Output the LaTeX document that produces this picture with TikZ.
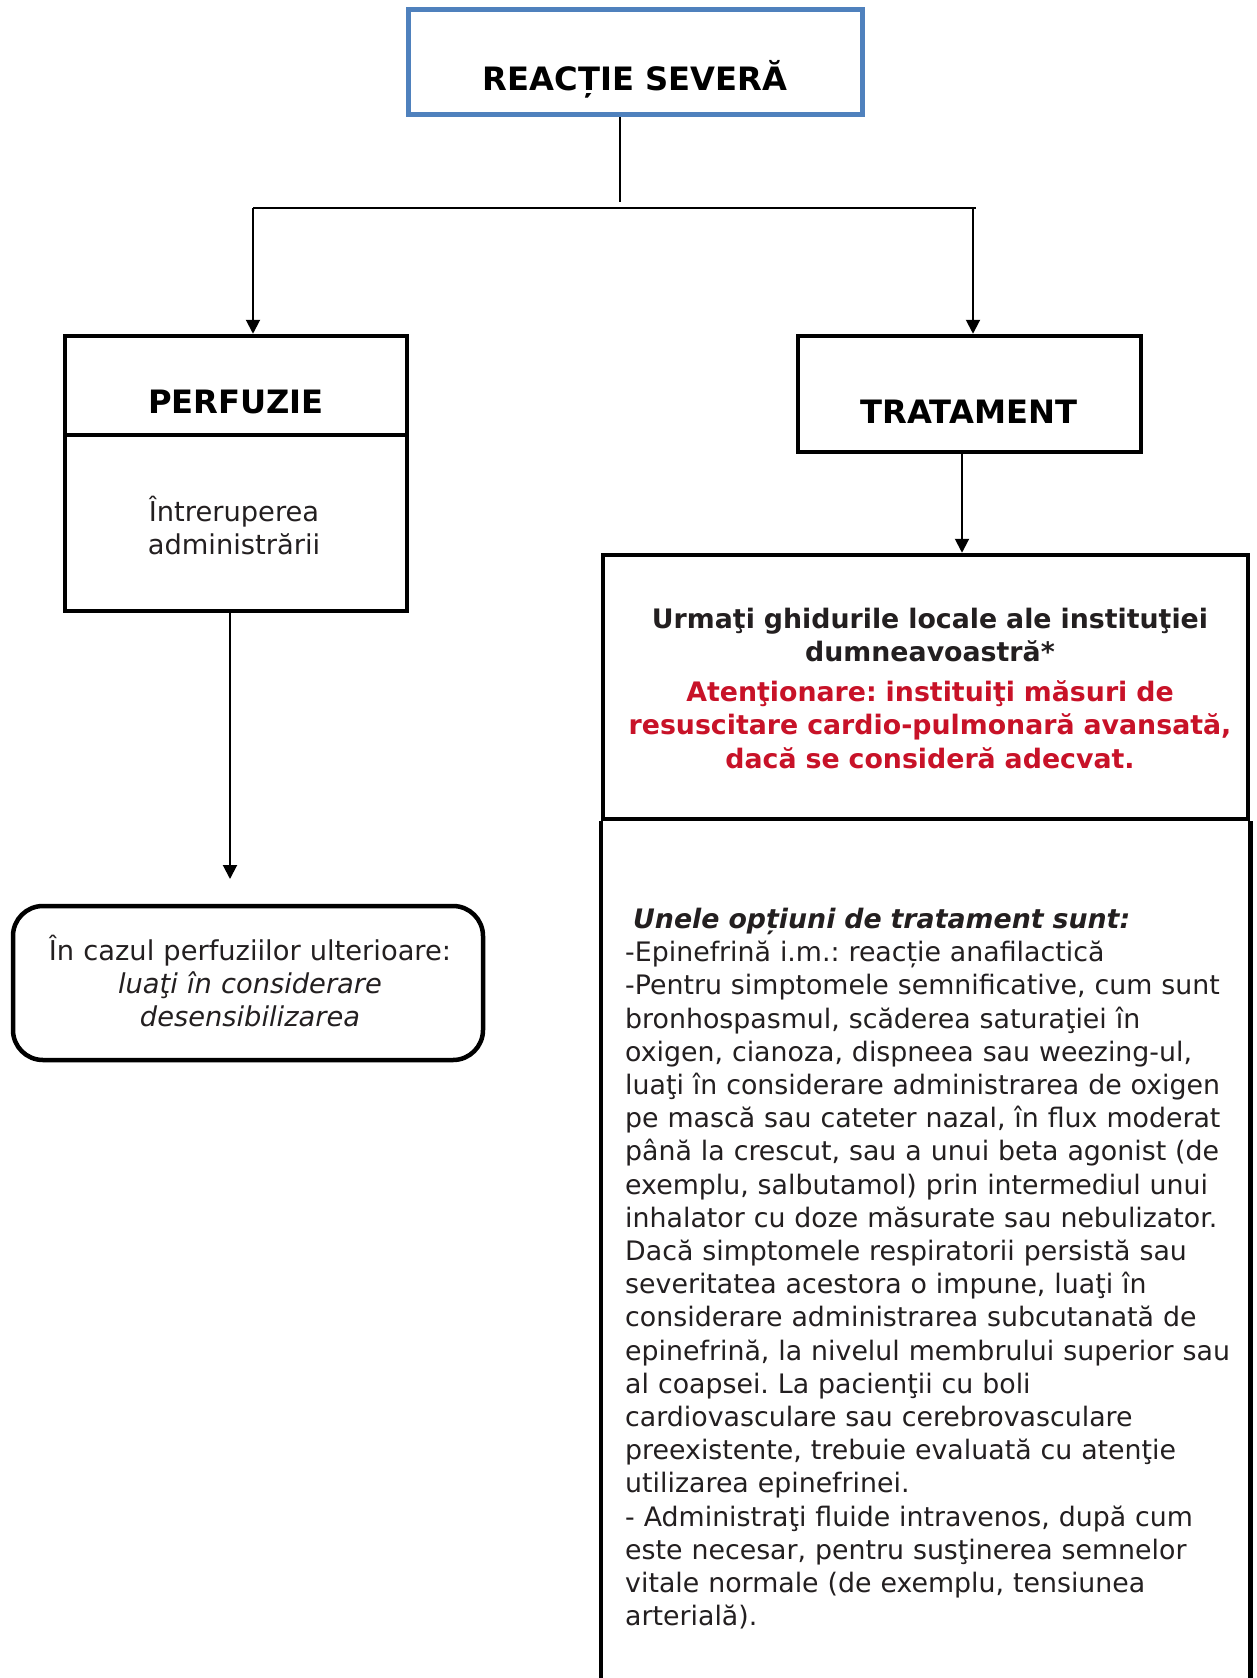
\documentclass[tikz,border=0pt]{standalone}
\usepackage{fontspec}
\setmainfont{DejaVu Sans}
\usetikzlibrary{arrows.meta}
\definecolor{txt}{RGB}{35,31,32}
\definecolor{redt}{RGB}{200,18,40}
\definecolor{blueb}{RGB}{79,129,189}
\newcommand{\bodyfnt}{\frenchspacing\fontsize{27.3}{33.2}\selectfont}
\newcommand{\optfnt}{\frenchspacing\fontsize{26.8}{33.2}\selectfont}
\newcommand{\headfnt}{\fontsize{32.2}{38}\selectfont\bfseries}
\begin{document}
\begin{tikzpicture}[x=1pt,y=-1pt,
  box/.style={draw=black,line width=4.5pt,inner sep=0pt},
  topbox/.style={draw=blueb,line width=5pt,inner sep=0pt},
  conn/.style={line width=2pt,black},
  arr/.style={conn,-{Triangle[length=14pt,width=14pt]}},
  head/.style={font=\headfnt,text=black,inner sep=0pt,anchor=base},
  bodyc/.style={font=\bodyfnt,text=txt,inner sep=0pt,anchor=base,align=center,text width=460pt},
  bodyl/.style={font=\optfnt,text=txt,inner sep=0pt,anchor=base west,align=left,text width=640pt}]
\useasboundingbox[fill=white] (0,0) rectangle (1257,1678);

% boxes
\node[topbox,minimum width=454pt,minimum height=105pt] (sev) at (635.5,62) {};
\node[box,minimum width=342pt,minimum height=99pt] (perf) at (236,385.5) {};
\node[box,minimum width=342pt,minimum height=176pt] (perfb) at (236,523) {};
\node[box,minimum width=343pt,minimum height=116pt] (trat) at (969.5,394) {};
\node[box,minimum width=645pt,minimum height=264pt] (guide) at (925.5,687) {};
\node[box,rounded corners=30pt,minimum width=470pt,minimum height=154pt] (cons) at (248,983) {};
\draw[line width=4.5pt] (guide.south west) -- ++(0,870);
\draw[line width=4.5pt] (guide.south east) -- ++(0,870);

% texts
\node[head] (tsev) at (635,90.6) {REACȚIE SEVERĂ};
\node[head] (tperf) at (236,413.6) {PERFUZIE};
\node[head] (ttrat) at (969,423.6) {TRATAMENT};
\node[bodyc,text width=330pt] (tperfb) at (234,521) {Întreruperea\\administrării};
\node[bodyc] (tcons) at (250,960.5) {În cazul perfuziilor ulterioare:\\\textit{luaţi în considerare}\\\textit{desensibilizarea}};
\node[bodyc,text width=640pt,font=\optfnt\bfseries] (tguide) at (930,628) {Urmaţi ghidurile locale ale instituţiei\\dumneavoastră*};
\node[bodyc,text width=640pt,font=\optfnt\bfseries,text=redt] (twarn) at (930,701.7) {Atenţionare: instituiţi măsuri de\\resuscitare cardio-pulmonară avansată,\\dacă se consideră adecvat.};
\node[bodyl] (topts) at (625,928.4) {\hspace*{8pt}\textbf{\textit{Unele opțiuni de tratament sunt:}}\\
-Epinefrină i.m.: reacție anafilactică\\
-Pentru simptomele semnificative, cum sunt\\
bronhospasmul, scăderea saturaţiei în\\
oxigen, cianoza, dispneea sau weezing-ul,\\
luaţi în considerare administrarea de oxigen\\
pe mască sau cateter nazal, în flux moderat\\
până la crescut, sau a unui beta agonist (de\\
exemplu, salbutamol) prin intermediul unui\\
inhalator cu doze măsurate sau nebulizator.\\
Dacă simptomele respiratorii persistă sau\\
severitatea acestora o impune, luaţi în\\
considerare administrarea subcutanată de\\
epinefrină, la nivelul membrului superior sau\\
al coapsei. La pacienţii cu boli\\
cardiovasculare sau cerebrovasculare\\
preexistente, trebuie evaluată cu atenţie\\
utilizarea epinefrinei.\\
- Administraţi fluide intravenos, după cum\\
este necesar, pentru susţinerea semnelor\\
vitale normale (de exemplu, tensiunea\\
arterială).};

% connectors
\coordinate (stem) at (620,202);
\coordinate (jl) at (253,208);
\coordinate (jr) at (976,208);
\coordinate (pend) at (230,879);
\draw[conn] (stem |- sev.south) -- (stem);
\draw[conn] (jl) -- (jr);
\draw[arr] (jl) -- (jl |- perf.north);
\draw[arr] ([xshift=-3pt]jr) -- ([xshift=-3pt]jr |- trat.north);
\draw[arr] (962,0 |- trat.south) -- (962,0 |- guide.north);
\draw[arr] (pend |- perfb.south) -- (pend);
\end{tikzpicture}
\end{document}
